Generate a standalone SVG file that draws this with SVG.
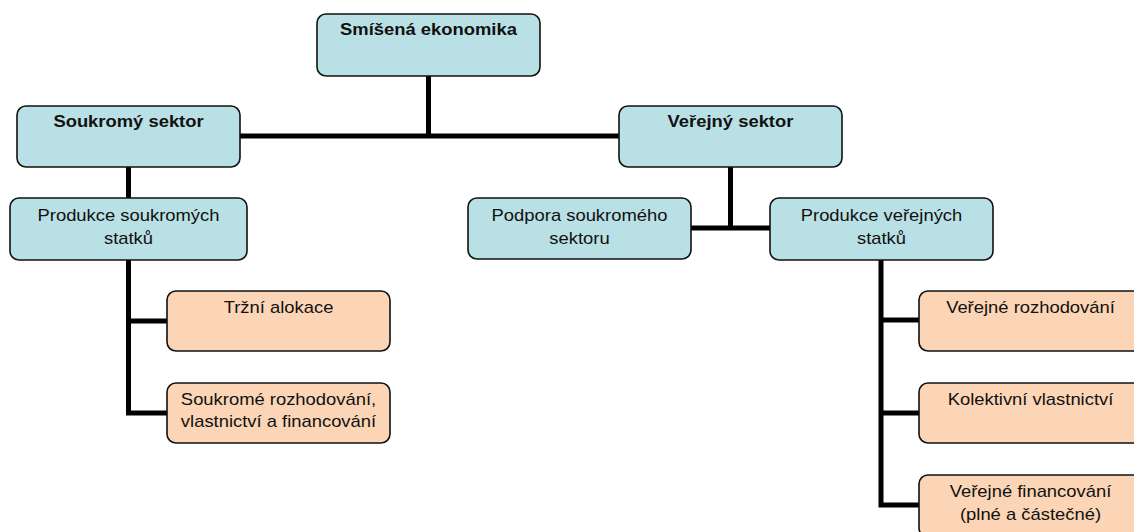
<svg xmlns="http://www.w3.org/2000/svg" width="1134" height="532" viewBox="0 0 1134 532">
<style>
.blue{fill:#b9e0e4;stroke:#111;stroke-width:1.6}
.tan{fill:#fbd5b5;stroke:#111;stroke-width:1.6}
.con{fill:none;stroke:#000;stroke-width:5;stroke-linecap:butt;stroke-linejoin:miter}
text{font-family:"Liberation Sans",Arial,sans-serif;font-size:16px;fill:#111;text-anchor:middle}
.b{font-weight:bold}
</style>
<rect width="1134" height="532" fill="#fff"/>
<g id="connectors">
<path class="con" d="M428.5 76V136M240 136H619"/>
<path class="con" d="M128.5 167V198"/>
<path class="con" d="M128.5 260V415.5M126 321H167M126 413H167"/>
<path class="con" d="M730.5 167V228M691 228H770"/>
<path class="con" d="M881 260V507.5M878.5 320H919M878.5 413H919M878.5 505H919"/>
</g>
<g id="n-smisena"><rect class="blue" x="317" y="14" width="223" height="62" rx="9"/><text class="b" transform="translate(428.5,35) scale(1.15,1)">Smíšená ekonomika</text></g>
<g id="n-soukromy"><rect class="blue" x="17" y="106" width="223" height="61" rx="9"/><text class="b" transform="translate(128.5,127) scale(1.15,1)">Soukromý sektor</text></g>
<g id="n-verejny"><rect class="blue" x="619" y="106" width="223" height="61" rx="9"/><text class="b" transform="translate(730.5,127) scale(1.15,1)">Veřejný sektor</text></g>
<g id="n-produkce-s"><rect class="blue" x="10" y="198" width="237" height="62" rx="9"/><text transform="translate(128.5,221) scale(1.15,1)">Produkce soukromých</text><text transform="translate(128.5,244) scale(1.15,1)">statků</text></g>
<g id="n-podpora"><rect class="blue" x="468" y="198" width="223" height="61" rx="9"/><text transform="translate(579.5,221) scale(1.15,1)">Podpora soukromého</text><text transform="translate(579.5,244) scale(1.15,1)">sektoru</text></g>
<g id="n-produkce-v"><rect class="blue" x="770" y="198" width="223" height="62" rx="9"/><text transform="translate(881.5,221) scale(1.15,1)">Produkce veřejných</text><text transform="translate(881.5,244) scale(1.15,1)">statků</text></g>
<g id="n-trzni"><rect class="tan" x="167" y="291" width="223" height="60" rx="9"/><text transform="translate(278.5,313) scale(1.15,1)">Tržní alokace</text></g>
<g id="n-soukrome-rozh"><rect class="tan" x="167" y="383" width="223" height="60" rx="9"/><text transform="translate(278.5,405) scale(1.15,1)">Soukromé rozhodování,</text><text transform="translate(278.5,427) scale(1.15,1)">vlastnictví a financování</text></g>
<g id="n-verejne-rozh"><rect class="tan" x="919" y="291" width="223" height="60" rx="9"/><text transform="translate(1030.5,313) scale(1.15,1)">Veřejné rozhodování</text></g>
<g id="n-kolektivni"><rect class="tan" x="919" y="383" width="223" height="60" rx="9"/><text transform="translate(1030.5,405) scale(1.15,1)">Kolektivní vlastnictví</text></g>
<g id="n-verejne-fin"><rect class="tan" x="919" y="475" width="223" height="62" rx="9"/><text transform="translate(1030.5,497) scale(1.15,1)">Veřejné financování</text><text transform="translate(1030.5,520) scale(1.15,1)">(plné a částečné)</text></g>
</svg>
